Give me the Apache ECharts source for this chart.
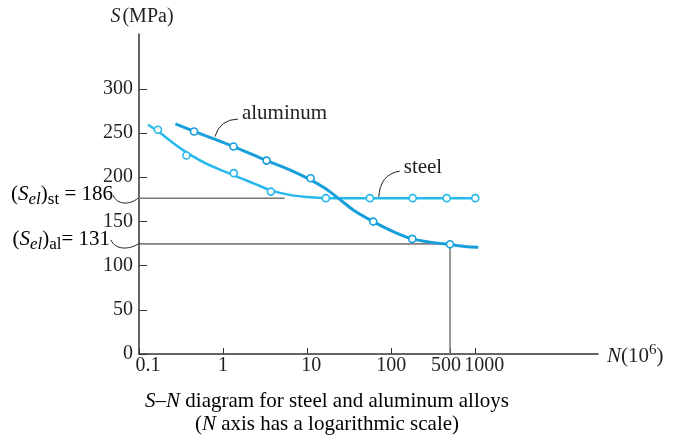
<!DOCTYPE html>
<html><head><meta charset="utf-8">
<script src="https://cdn.jsdelivr.net/npm/echarts@6/dist/echarts.min.js"></script>
<style>html,body{margin:0;padding:0;background:#fff}#c{width:673px;height:438px}</style>
</head><body><div id="c"></div>
<script>
// ---- Data (N in 10^6 cycles, S in MPa) ----
const steelCurveN = [0.128, 0.168, 0.252, 0.366, 0.640, 1.34, 2.38, 3.70, 6.22, 10.8, 16.7, 1000];
const steelCurveS = [259.3, 251.9, 238.9, 228.1, 215.1, 202.1, 192.5, 185.1, 180.0, 177.2, 176.3, 176.3];
const steelPointsN = [0.168, 0.366, 1.34, 3.70, 16.7, 55.7, 180, 457, 1000];
const steelPointsS = [253.6, 224.5, 204.6, 183.7, 176.3, 176.3, 176.3, 176.3, 176.3];
const alCurveN = [0.271, 0.452, 0.775, 1.33, 2.08, 3.29, 6.22, 11.0, 16.3, 23.4, 35.3, 61.1, 105.6, 178, 316, 486, 754, 1086];
const alCurveS = [260.4, 251.9, 243.4, 234.7, 227.0, 218.8, 208.3, 197.0, 187.4, 176.3, 163.0, 149.8, 138.5, 130.2, 126.0, 124.0, 121.7, 120.8];
const alPointsN = [0.452, 1.33, 3.29, 11.0, 61.1, 178, 500];
const alPointsS = [251.7, 234.7, 218.8, 198.9, 149.8, 130.2, 124.2];
const xTickValues = [0.1, 1, 10, 100, 500, 1000];
const xTickLabels = ['0.1', '1', '10', '100', '500', '1000'];
const yTickValues = [0, 50, 100, 150, 200, 250, 300];
const steelLimitLevel = 176.3;   // level at which the (S_el)st line is drawn
const steelLimitText = '186';
const steelLimitLineEndN = 5.4;
const alLimitLevel = 124.5;      // level at which the (S_el)al line is drawn
const alLimitText = '131';
const alLimitN = 500;
const xMinN = 0.1, xMaxN = 28800, yMax = 362;

// ---- Build ----
const L = v => Math.log10(v);
const pairs = (ns, ss) => ns.map((n, i) => [L(n), ss[i]]);
const FONT = '"Liberation Serif", "DejaVu Serif", serif';
const INK = '#231f20';
const AL = '#179fdc', ST = '#27b9ec';
const labelStyleOf = {'0.1': 'r9', '10': 'r4', '500': 'l4', '1000': 'r9'};

const chart = echarts.init(document.getElementById('c'), null, {renderer: 'canvas'});
const base = {fontFamily: FONT, fontSize: 20, color: INK};
const big = {fontFamily: FONT, fontSize: 21, color: INK};
chart.setOption({
  animation: false,
  grid: {left: 139, right: 75, top: 34, bottom: 84, containLabel: false},
  xAxis: {
    type: 'value', min: L(xMinN), max: L(xMaxN),
    axisLine: {lineStyle: {color: '#333', width: 1.5}},
    splitLine: {show: false},
    axisTick: {show: true, inside: true, length: 6, customValues: xTickValues.map(L), lineStyle: {color: '#333', width: 1}},
    axisLabel: {
      customValues: xTickValues.map(L), margin: 2, ...base,
      formatter: v => {
        let best = 0;
        xTickValues.forEach((t, i) => { if (Math.abs(L(t) - v) < Math.abs(L(xTickValues[best]) - v)) best = i; });
        const s = xTickLabels[best];
        const st = labelStyleOf[s];
        return st ? '{' + st + '|' + s + '}' : s;
      },
      rich: {
        r9: {...base, padding: [0, 0, 0, 18]},
        r4: {...base, padding: [0, 0, 0, 8]},
        l4: {...base, padding: [0, 8, 0, 0]}
      }
    },
    name: '{i|N}{n|(10}{s|6}{n|)}', nameLocation: 'end', nameGap: 9,
    nameTextStyle: {...big, align: 'left', padding: [4, 0, 0, 0], rich: {
      i: {...big, fontStyle: 'italic', lineHeight: 27},
      n: {...big, lineHeight: 27},
      s: {...big, fontSize: 15, lineHeight: 17, verticalAlign: 'top'}
    }}
  },
  yAxis: {
    type: 'value', min: 0, max: yMax,
    axisLine: {show: true, onZero: false, lineStyle: {color: '#333', width: 1.5}},
    splitLine: {show: false},
    axisTick: {show: true, inside: true, length: 8, customValues: yTickValues, lineStyle: {color: '#333', width: 1}},
    axisLabel: {customValues: yTickValues, margin: 6, ...base},
    name: '{i|S}{n|(MPa)}', nameLocation: 'end', nameGap: 7,
    nameTextStyle: {...base, align: 'center', padding: [0, 0, 0, 6], rich: {
      i: {...base, fontStyle: 'italic', padding: [0, 2, 0, 0]},
      n: {...base}
    }}
  },
  series: [
    {type: 'line', name: 'steelLimit', data: [[L(xMinN), steelLimitLevel], [L(steelLimitLineEndN), steelLimitLevel]],
     showSymbol: false, lineStyle: {color: '#777', width: 1.5}, z: 1, silent: true},
    {type: 'line', name: 'alLimit', data: [[L(xMinN), alLimitLevel], [L(alLimitN), alLimitLevel]],
     showSymbol: false, lineStyle: {color: '#222', width: 1}, z: 1, silent: true},
    {type: 'line', name: 'alLimitV', data: [[L(alLimitN), alLimitLevel], [L(alLimitN), 0]],
     showSymbol: false, lineStyle: {color: '#777', width: 1.5}, z: 1, silent: true},
    {type: 'line', name: 'steel', data: pairs(steelCurveN, steelCurveS), smooth: 0.3,
     showSymbol: false, lineStyle: {color: ST, width: 2.5}, z: 3},
    {type: 'line', name: 'aluminum', data: pairs(alCurveN, alCurveS), smooth: 0.3,
     showSymbol: false, lineStyle: {color: AL, width: 3}, z: 3},
    {type: 'scatter', name: 'steel pts', data: pairs(steelPointsN, steelPointsS), symbol: 'circle', symbolSize: 7,
     itemStyle: {color: '#fff', borderColor: ST, borderWidth: 1.6, opacity: 1}, z: 5},
    {type: 'scatter', name: 'al pts', data: pairs(alPointsN, alPointsS), symbol: 'circle', symbolSize: 7,
     itemStyle: {color: '#fff', borderColor: AL, borderWidth: 1.6, opacity: 1}, z: 5}
  ]
});

// ---- Annotations anchored to data coordinates ----
const P = (n, s) => chart.convertToPixel({gridIndex: 0}, [L(n), s]);
const sub = {fontFamily: FONT, fontSize: 17, color: INK, lineHeight: 17, verticalAlign: 'bottom'};
const subI = {...sub, fontStyle: 'italic'};
const rich = {
  n: {...big, lineHeight: 27},
  i: {...big, fontStyle: 'italic', lineHeight: 27},
  si: subI, s: sub
};
const pSt = P(xMinN, steelLimitLevel);
const pAl = P(xMinN, alLimitLevel);
const pAlLead = P(0.8, 246);
const pStLead = P(71, steelLimitLevel);
const curve = (x1, y1, cx, cy, x2, y2) => ({type: 'bezierCurve',
  shape: {x1, y1, cpx1: cx, cpy1: cy, x2, y2}, style: {stroke: INK, lineWidth: 1, fill: null}});
const cubic = (x1, y1, c1x, c1y, c2x, c2y, x2, y2) => ({type: 'bezierCurve',
  shape: {x1, y1, cpx1: c1x, cpy1: c1y, cpx2: c2x, cpy2: c2y, x2, y2}, style: {stroke: INK, lineWidth: 1, fill: null}});
chart.setOption({
  graphic: [
    {type: 'text', x: pSt[0] - 26, y: pSt[1] - 4, style: {
      text: '{n|(}{i|S}{si|el}{n|)}{s|st}{n| = ' + steelLimitText + '}', rich,
      align: 'right', verticalAlign: 'middle', font: '21px ' + FONT}},
    {type: 'text', x: pAl[0] - 29, y: pAl[1] - 4, style: {
      text: '{n|(}{i|S}{si|el}{n|)}{s|al}{n|= ' + alLimitText + '}', rich,
      align: 'right', verticalAlign: 'middle', font: '21px ' + FONT}},
    cubic(pSt[0] - 26, pSt[1] - 3, pSt[0] - 22, pSt[1] + 7, pSt[0] - 9, pSt[1] + 7, pSt[0] - 1, pSt[1]),
    cubic(pAl[0] - 28, pAl[1] - 4, pAl[0] - 24, pAl[1] + 6, pAl[0] - 10, pAl[1] + 6, pAl[0] - 1, pAl[1]),
    curve(pAlLead[0], pAlLead[1], pAlLead[0] + 5, pAlLead[1] - 17, pAlLead[0] + 23, pAlLead[1] - 17.5),
    {type: 'text', x: pAlLead[0] + 27, y: pAlLead[1] - 23, style: {text: 'aluminum', font: '21px ' + FONT,
      fill: INK, align: 'left', verticalAlign: 'middle'}},
    curve(pStLead[0], pStLead[1], pStLead[0] + 1, pStLead[1] - 24, pStLead[0] + 21, pStLead[1] - 27),
    {type: 'text', x: pStLead[0] + 25, y: pStLead[1] - 31, style: {text: 'steel', font: '21px ' + FONT,
      fill: INK, align: 'left', verticalAlign: 'middle'}},
    {type: 'text', x: 327, y: 390, style: {
      text: '{i|S}{n|–}{i|N}{n| diagram for steel and aluminum alloys}\n{n|(}{i|N}{n| axis has a logarithmic scale)}',
      rich: {n: {...big, lineHeight: 23}, i: {...big, fontStyle: 'italic', lineHeight: 23}},
      align: 'center', verticalAlign: 'top', font: '21px ' + FONT}}
  ]
});
</script>
</body></html>
